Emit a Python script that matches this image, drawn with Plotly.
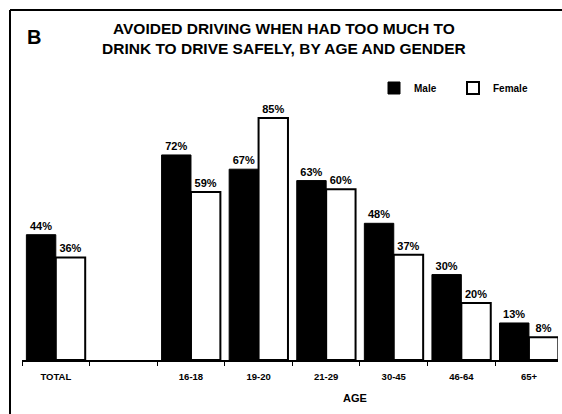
import plotly.graph_objects as go

categories = ["TOTAL", "16-18", "19-20", "21-29", "30-45", "46-64", "65+"]
male = [44, 72, 67, 63, 48, 30, 13]
female = [36, 59, 85, 60, 37, 20, 8]

# TOTAL stands apart, with one empty slot before the age groups
pos = [0] + [i + 2 for i in range(len(categories) - 1)]

FONT = "Liberation Sans, Arial, sans-serif"
W, H = 562, 414
ML, MR, MT, MB = 22, 4, 100, 54
PW, PH = W - ML - MR, H - MT - MB


def px_x(x):
    return (x - ML) / PW


def px_y(y):
    return (H - MB - y) / PH


fig = go.Figure()
fig.add_trace(go.Bar(
    x=pos, y=male, name="<b>Male</b>",
    marker=dict(color="black", line=dict(color="black", width=1)),
    text=[f"<b>{v}%</b>" for v in male], textposition="outside",
    textfont=dict(family=FONT, size=11, color="black"),
    cliponaxis=False,
))
fig.add_trace(go.Bar(
    x=pos, y=female, name="<b>Female</b>",
    marker=dict(color="white", line=dict(color="black", width=2)),
    text=[f"<b>{v}%</b>" for v in female], textposition="outside",
    textfont=dict(family=FONT, size=11, color="black"),
    cliponaxis=False,
))

fig.update_layout(
    width=W, height=H,
    paper_bgcolor="white", plot_bgcolor="white",
    margin=dict(l=ML, r=MR, t=MT, b=MB, autoexpand=False),
    barmode="group", bargap=0.13, bargroupgap=0,
    font=dict(family=FONT, color="black"),
    showlegend=True,
    legend=dict(orientation="h", x=px_x(374), xanchor="left", y=px_y(88), yanchor="middle",
                font=dict(family=FONT, size=10, color="black"),
                itemwidth=30, entrywidth=34, entrywidthmode="pixels",
                bgcolor="rgba(0,0,0,0)"),
    xaxis=dict(
        range=[-0.5, 7.43],
        automargin=False,
        tickmode="array", tickvals=pos, ticktext=[f"<b>{c}</b>" for c in categories],
        tickfont=dict(family=FONT, size=9.5, color="black"),
        showgrid=False, zeroline=False,
        showline=True, linecolor="black", linewidth=2,
        ticks="", ticklabelstandoff=7,
        minor=dict(tickmode="array", tickvals=[p - 0.5 for p in range(0, 9)],
                   ticks="outside", ticklen=4, tickcolor="black", tickwidth=1),
    ),
    yaxis=dict(range=[0, 91.3], visible=False, automargin=False),
    annotations=[
        dict(text="<b>AVOIDED DRIVING WHEN HAD TOO MUCH TO<br>DRINK TO DRIVE SAFELY, BY AGE AND GENDER</b>",
             x=px_x(284), y=px_y(39), xref="paper", yref="paper", showarrow=False,
             font=dict(family=FONT, size=15.5, color="black"), align="center",
             xanchor="center", yanchor="middle"),
        dict(text="<b>B</b>", x=px_x(25), y=px_y(37), xref="paper", yref="paper", showarrow=False,
             font=dict(family=FONT, size=20, color="black"), xanchor="left", yanchor="middle"),
        dict(text="<b>AGE</b>", x=px_x(355), y=px_y(398), xref="paper", yref="paper", showarrow=False,
             font=dict(family=FONT, size=11, color="black"), xanchor="center", yanchor="middle"),
    ],
)

# outer frame lines (top and left)
fig.add_shape(type="line", xref="paper", yref="paper",
              x0=px_x(10), x1=px_x(W), y0=px_y(10), y1=px_y(10),
              line=dict(color="black", width=2))
fig.add_shape(type="line", xref="paper", yref="paper",
              x0=px_x(10), x1=px_x(10), y0=px_y(10), y1=px_y(H),
              line=dict(color="black", width=2))

fig.write_html("out.html", config={"displayModeBar": False},
               post_script="document.body.style.margin='0px';")
